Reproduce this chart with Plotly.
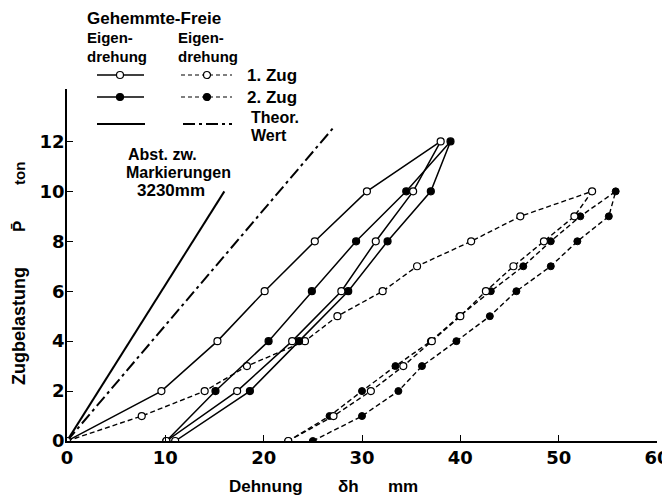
import plotly.graph_objects as go

# ---- data ----
load_y12 = [0, 2, 4, 6, 8, 10, 12, 10, 8, 6, 4, 2, 0]
geh_zug1_x = [0, 9.6, 15.3, 20.1, 25.2, 30.5, 38.0, 35.2, 31.4, 27.9, 22.9, 17.3, 10.1]
geh_zug2_x = [11.0, 18.6, 23.6, 28.6, 32.6, 37.0, 39.0, 34.5, 29.4, 24.9, 20.5, 15.1, 10.1]

load_y10 = [0, 1, 2, 3, 4, 5, 6, 7, 8, 9, 10, 9, 8, 7, 6, 5, 4, 3, 2, 1, 0]
frei_zug1_x = [0, 7.6, 14.0, 18.3, 24.2, 27.5, 32.1, 35.6, 41.1, 46.1, 53.4,
               51.6, 48.5, 45.4, 42.6, 40.0, 37.1, 34.2, 30.9, 27.1, 22.5]
frei_zug2_x = [25.0, 30.0, 33.7, 36.1, 39.6, 43.0, 45.7, 49.2, 51.9, 55.1, 55.8,
               52.2, 49.2, 46.4, 43.1, 39.9, 37.0, 33.4, 30.0, 26.7, 22.5]

theo_geh_x = [0, 16.0]
theo_geh_y = [0, 10.0]
theo_frei_x = [0, 27.2]
theo_frei_y = [0, 12.6]

x_ticks = [0, 10, 20, 30, 40, 50, 60]
y_ticks = [0, 2, 4, 6, 8, 10, 12]

# ---- layout geometry (window pixels; page body has an 8px margin) ----
OFF = 8
W, H = 670 - OFF, 500 - OFF
X0, X1, Y0, Y1 = 67, 657, 89, 441          # plot area in window pixels
L, T = X0 - OFF, Y0 - OFF
R, B = W - (X1 - OFF), H - (Y1 - OFF)
PW, PH = X1 - X0, Y1 - Y0
TXT = "Liberation Sans"
NUM = "DejaVu Sans"


def px(x):
    return (x - X0) / PW


def py(y):
    return (Y1 - y) / PH


fig = go.Figure()

dash_style = "5px,3px"
mk = 7

# theoretical lines
fig.add_trace(go.Scatter(x=theo_geh_x, y=theo_geh_y, mode="lines",
                         line=dict(color="black", width=2)))
fig.add_trace(go.Scatter(x=theo_frei_x, y=theo_frei_y, mode="lines",
                         line=dict(color="black", width=2, dash="12px,4px,3px,4px")))

# free rotation (dashed)
fig.add_trace(go.Scatter(x=frei_zug2_x, y=load_y10, mode="lines+markers",
                         line=dict(color="black", width=1.4, dash=dash_style),
                         marker=dict(size=mk, color="black", line=dict(color="black", width=1))))
fig.add_trace(go.Scatter(x=frei_zug1_x, y=load_y10, mode="lines+markers",
                         line=dict(color="black", width=1.4, dash=dash_style),
                         marker=dict(size=mk, color="white", line=dict(color="black", width=1.2))))

# restrained rotation (solid)
geh2_colors = ["white" if v == 0 else "black" for v in load_y12]
fig.add_trace(go.Scatter(x=geh_zug2_x, y=load_y12, mode="lines+markers",
                         line=dict(color="black", width=1.5),
                         marker=dict(size=mk, color=geh2_colors, line=dict(color="black", width=1.2))))
fig.add_trace(go.Scatter(x=geh_zug1_x, y=load_y12, mode="lines+markers",
                         line=dict(color="black", width=1.5),
                         marker=dict(size=mk, color="white", line=dict(color="black", width=1.2))))

shapes = []
annotations = []


def txt(x, y, s, size=17, anchor="left", angle=0, font=TXT):
    annotations.append(dict(x=px(x), y=py(y), xref="paper", yref="paper", text=s,
                            showarrow=False, xanchor=anchor, yanchor="middle",
                            textangle=angle, borderpad=0,
                            font=dict(family=font, size=size, color="black", weight="bold")))


def hline(x0, x1, y, dash=None, width=1.5):
    ln = dict(color="black", width=width)
    if dash:
        ln["dash"] = dash
    shapes.append(dict(type="line", xref="paper", yref="paper", x0=px(x0), x1=px(x1),
                       y0=py(y), y1=py(y), line=ln))


def circ(x, y, filled):
    r = 3.5
    shapes.append(dict(type="circle", xref="paper", yref="paper",
                       x0=px(x - r), x1=px(x + r), y0=py(y + r), y1=py(y - r),
                       fillcolor="black" if filled else "white",
                       line=dict(color="black", width=1.2)))


# legend block
txt(86, 18, "Gehemmte-Freie")
txt(86, 37, "Eigen-", size=15)
txt(177, 37, "Eigen-", size=15)
txt(86, 56, "drehung", size=15)
txt(177, 56, "drehung", size=15)

hline(97, 144, 75)
circ(120, 75, False)
hline(181, 232, 75, dash="4px,3px", width=1.2)
circ(207, 75, False)
txt(246, 75, "1. Zug")

hline(97, 144, 97)
circ(120, 97, True)
hline(181, 232, 97, dash="4px,3px", width=1.2)
circ(207, 97, True)
txt(246, 97, "2. Zug")

hline(97, 145, 124, width=2)
hline(183, 232, 124, dash="12px,4px,3px,4px", width=2)
txt(250, 117, "Theor.", size=16)
txt(250, 135, "Wert", size=16)

# note
txt(162, 154, "Abst. zw.", size=16, anchor="center")
txt(178, 172, "Markierungen", size=16, anchor="center")
txt(171, 190, "3230mm", size=17, anchor="center")

# axis titles
txt(228, 486, "Dehnung")
txt(337, 486, "δh")
txt(387, 486, "mm")
txt(19, 326, "Zugbelastung", size=18, angle=-90, anchor="center")
txt(19, 227, "P̄", size=17, angle=-90, anchor="center")
txt(19, 174, "ton", size=15, angle=-90, anchor="center")

fig.update_layout(
    width=W, height=H, autosize=False,
    margin=dict(l=L, r=R, t=T, b=B, pad=0, autoexpand=False),
    paper_bgcolor="white", plot_bgcolor="white",
    showlegend=False,
    shapes=shapes, annotations=annotations,
    xaxis=dict(range=[0, 60], tickvals=x_ticks, ticktext=[str(v) for v in x_ticks],
               automargin=False,
               showgrid=False, zeroline=False, showline=True, linecolor="black", linewidth=1.5,
               ticks="inside", ticklen=6, tickcolor="black", tickwidth=1.2,
               tickfont=dict(family=NUM, size=18, color="black", weight="bold")),
    yaxis=dict(range=[0, 14.1], tickvals=y_ticks, ticktext=[str(v) for v in y_ticks],
               automargin=False,
               showgrid=False, zeroline=False, showline=True, linecolor="black", linewidth=1.5,
               ticks="inside", ticklen=6, tickcolor="black", tickwidth=1.2,
               ticklabelstandoff=-3,
               tickfont=dict(family=NUM, size=18, color="black", weight="bold")),
)

fig.write_html("out.html")
